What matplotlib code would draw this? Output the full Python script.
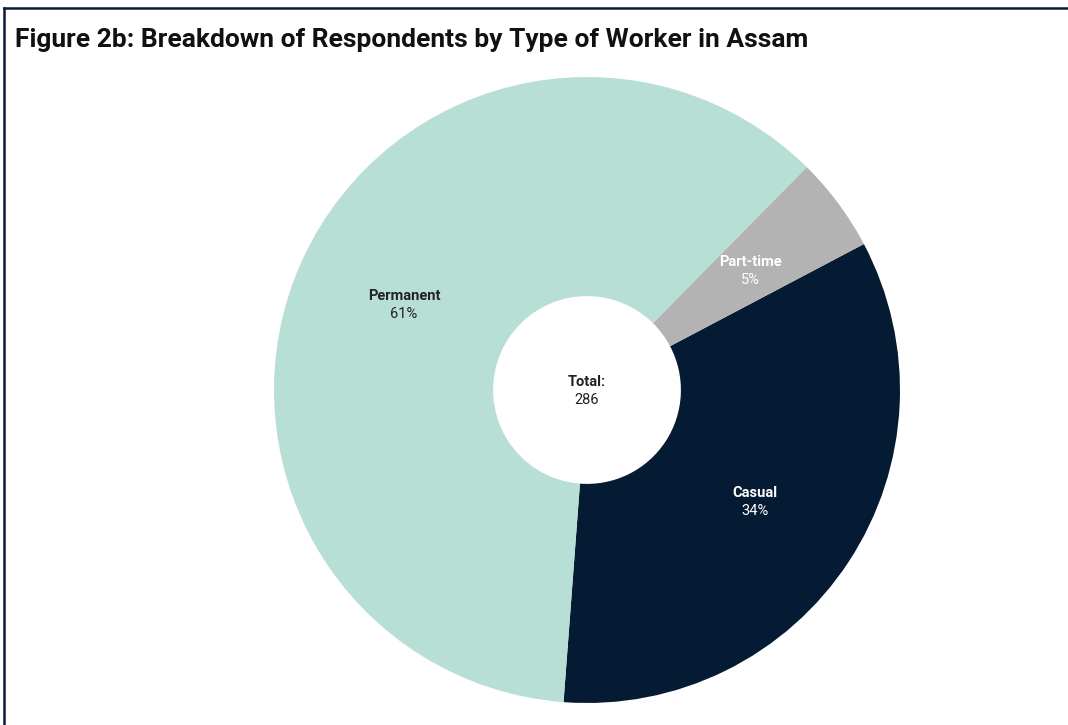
import matplotlib
matplotlib.use("Agg")
import matplotlib.pyplot as plt
import numpy as np
from matplotlib.lines import Line2D

categories = ["Casual", "Part-time", "Permanent"]
counts = [97, 14, 175]
percent_labels = ["34%", "5%", "61%"]
colors = ["#051a33", "#b3b3b3", "#b8dfd5"]
text_colors = ["white", "white", "#222222"]
total = 286
title = "Figure 2b: Breakdown of Respondents by Type of Worker in Assam"

plt.rcParams['font.family'] = ['Roboto', 'DejaVu Sans']

W, H = 1068, 725
fig = plt.figure(figsize=(W / 100, H / 100), dpi=100)
fig.patch.set_facecolor("white")

cx, cy, r = 587, 390, 313
ax = fig.add_axes([(cx - r) / W, (H - cy - r) / H, 2 * r / W, 2 * r / H])
wedges, _ = ax.pie(counts, colors=colors, startangle=-94.3, counterclock=True,
                   radius=1, wedgeprops=dict(width=0.70, linewidth=0))
ax.set_xlim(-1, 1)
ax.set_ylim(-1, 1)
ax.set_aspect("equal")
ax.axis("off")

for w, name, pct, tc in zip(wedges, categories, percent_labels, text_colors):
    ang = np.deg2rad((w.theta1 + w.theta2) / 2 - 0.5)
    x, y = 0.645 * np.cos(ang), 0.645 * np.sin(ang)
    ax.text(x, y + 0.029, name, ha="center", va="center", fontsize=10.5,
            fontweight="bold", color=tc)
    ax.text(x, y - 0.029, pct, ha="center", va="center", fontsize=10.5,
            color=tc)

ax.text(0, 0.027, "Total:", ha="center", va="center", fontsize=10.5,
        fontweight="bold", color="#222222")
ax.text(0, -0.031, str(total), ha="center", va="center", fontsize=10.5,
        color="#222222")

fig.text(15 / W, 1 - 40 / H, title, ha="left", va="center", fontsize=19,
         fontweight="bold", color="#111111")

border = "#0c1a3a"
fig.add_artist(Line2D([4 / W, 4 / W], [0, 1 - 8 / H], color=border, lw=1.8,
                      transform=fig.transFigure))
fig.add_artist(Line2D([4 / W, 1], [1 - 8 / H, 1 - 8 / H], color=border, lw=1.8,
                      transform=fig.transFigure))

fig.savefig("out.png", dpi=100)
